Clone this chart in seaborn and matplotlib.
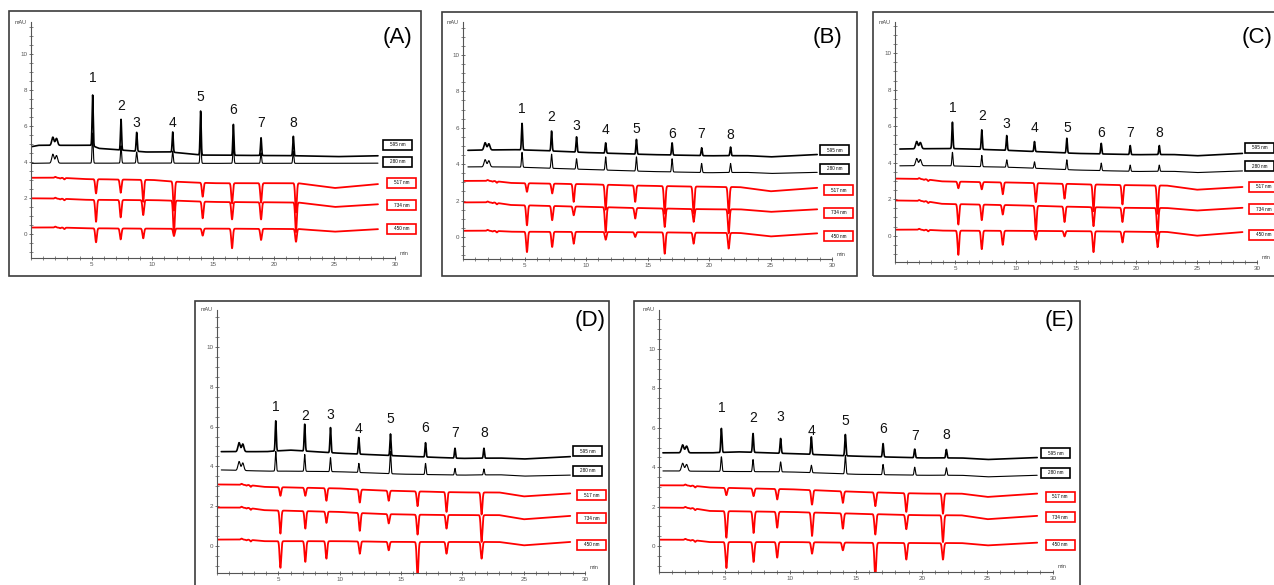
import numpy as np
import matplotlib
matplotlib.use("Agg")
import matplotlib.pyplot as plt
import seaborn as sns
from matplotlib.patches import Rectangle
from matplotlib.ticker import MultipleLocator

# ---------------- data ----------------
panels = ["A", "B", "C", "D", "E"]
wavelengths = ["595 nm", "280 nm", "517 nm", "734 nm", "450 nm"]
peak_names = ["1", "2", "3", "4", "5", "6", "7", "8"]

solvent_t = [1.8, 2.1]
red_ripple_t = [2.0, 2.4, 2.75]
red_ripple_h = [0.05, -0.04, -0.08]

# Panel A
A_rt_black = [5.08, 7.42, 8.71, 11.68, 13.98, 16.68, 18.96, 21.62]
A_rt_red = [5.36, 7.39, 9.25, 11.78, 14.15, 16.57, 18.96, 21.84]
A_595 = [7.71, 6.36, 5.64, 5.66, 6.82, 6.08, 5.34, 5.42]
A_280 = [5.6, 4.9, 4.55, 4.6, 5.5, 4.95, 4.5, 4.6]
A_517 = [2.25, 2.29, 1.79, 1.3, 2.07, 1.70, 1.74, 1.2]
A_734 = [0.68, 0.92, 1.05, 0.0, 0.87, 0.81, 0.81, 0.1]
A_450 = [-0.46, -0.30, -0.24, -0.11, -0.09, -0.79, -0.33, -0.43]
A_base_t_black = [0, 0.6, 5.0, 5.6, 9.5, 11.5, 14, 18, 22, 25, 28.6]
A_base_595 = [4.84, 4.92, 4.92, 4.75, 4.55, 4.55, 4.38, 4.36, 4.34, 4.29, 4.34]
A_base_280 = [3.92, 3.93, 3.93, 3.93, 3.93, 3.93, 3.92, 3.92, 3.92, 3.92, 3.93]
A_base_t_red = [0, 2.5, 4.3, 10, 12, 15, 22, 25, 28.6]
A_base_517 = [3.12, 3.12, 3.05, 3.0, 2.9, 2.82, 2.82, 2.55, 2.77]
A_base_734 = [1.98, 1.96, 1.9, 1.88, 1.85, 1.78, 1.75, 1.5, 1.65]
A_base_450 = [0.36, 0.36, 0.32, 0.30, 0.30, 0.30, 0.28, 0.13, 0.27]
A_solvent = [0.45, 0.5]
A_label_y = [8.63, 7.1, 6.17, 6.17, 7.58, 6.88, 6.17, 6.17]
A_tag_y = [4.94, 4.0, 2.83, 1.6, 0.28]

# Panel B
B_rt_black = [4.8, 7.2, 9.23, 11.6, 14.1, 17.0, 19.4, 21.75]
B_rt_red = [5.2, 7.25, 9.0, 11.6, 14.0, 16.4, 18.75, 21.6]
B_595 = [6.24, 5.82, 5.5, 5.17, 5.36, 5.17, 4.9, 4.94]
B_280 = [4.65, 4.55, 4.3, 4.4, 4.4, 4.3, 4.04, 4.04]
B_517 = [2.48, 2.39, 1.93, 1.5, 1.93, 1.28, 1.28, 1.3]
B_734 = [0.64, 0.92, 1.19, 0.25, 1.01, 0.55, 0.83, 0.2]
B_450 = [-0.83, -0.55, -0.37, -0.15, 0.0, -0.92, -0.37, -0.64]
B_base_t_black = [0.4, 4.0, 6, 10, 15, 20, 23, 25, 28.8]
B_base_595 = [4.76, 4.8, 4.76, 4.64, 4.53, 4.46, 4.47, 4.4, 4.53]
B_base_280 = [3.85, 3.85, 3.8, 3.71, 3.6, 3.53, 3.55, 3.49, 3.55]
B_base_t_red = [0.1, 2.5, 3.8, 10, 15, 20, 22.5, 25, 28.8]
B_base_517 = [3.08, 3.08, 2.97, 2.9, 2.81, 2.76, 2.74, 2.51, 2.7]
B_base_734 = [1.9, 1.9, 1.76, 1.66, 1.58, 1.52, 1.52, 1.38, 1.52]
B_base_450 = [0.34, 0.34, 0.29, 0.28, 0.26, 0.23, 0.22, 0.03, 0.2]
B_solvent = [0.4, 0.4]
B_label_y = [7.01, 6.57, 6.11, 5.9, 5.92, 5.65, 5.65, 5.6]
B_tag_y = [4.77, 3.74, 2.57, 1.32, 0.04]

# Panel C
C_rt_black = [4.76, 7.19, 9.26, 11.56, 14.24, 17.09, 19.49, 21.9]
C_rt_red = [5.25, 7.19, 8.93, 11.67, 14.05, 16.45, 18.85, 21.76]
C_595 = [6.22, 5.8, 5.49, 5.16, 5.34, 5.06, 4.94, 4.94]
C_280 = [4.57, 4.4, 4.16, 4.05, 4.16, 3.98, 3.87, 3.87]
C_517 = [2.6, 2.54, 2.27, 1.84, 2.03, 1.34, 1.71, 1.2]
C_734 = [0.61, 0.85, 1.16, 0.2, 0.75, 0.52, 0.75, 0.1]
C_450 = [-1.05, -0.74, -0.5, -0.22, -0.04, -0.9, -0.37, -0.63]
C_base_t_black = [0.4, 4.0, 6, 10, 15, 20, 23, 25, 28.8]
C_base_595 = [4.75, 4.78, 4.76, 4.66, 4.51, 4.44, 4.45, 4.38, 4.51]
C_base_280 = [3.83, 3.84, 3.8, 3.74, 3.6, 3.52, 3.53, 3.46, 3.55]
C_base_t_red = [0.1, 2.5, 3.8, 10, 15, 20, 22.5, 25, 28.8]
C_base_517 = [3.13, 3.1, 2.98, 2.91, 2.83, 2.76, 2.75, 2.52, 2.67]
C_base_734 = [1.93, 1.9, 1.75, 1.67, 1.58, 1.52, 1.52, 1.38, 1.53]
C_base_450 = [0.33, 0.33, 0.28, 0.27, 0.25, 0.22, 0.21, 0.0, 0.2]
C_solvent = [0.4, 0.4]
C_label_y = [7.0, 6.56, 6.1, 5.89, 5.91, 5.64, 5.64, 5.64]
C_tag_y = [4.82, 3.81, 2.67, 1.44, 0.04]

# Panel D
D_rt_black = [4.79, 7.15, 9.25, 11.56, 14.14, 17.0, 19.4, 21.76]
D_rt_red = [5.17, 7.2, 8.92, 11.64, 14.0, 16.35, 18.71, 21.57]
D_595 = [6.29, 6.12, 5.95, 5.45, 5.63, 5.19, 4.91, 4.91]
D_280 = [4.75, 4.6, 4.44, 4.15, 4.74, 4.15, 3.9, 3.87]
D_517 = [2.52, 2.52, 2.27, 2.18, 2.27, 2.0, 1.71, 1.58]
D_734 = [0.62, 0.87, 1.16, 0.76, 1.13, 0.57, 0.87, 0.2]
D_450 = [-1.1, -0.8, -0.64, -0.39, -0.22, -1.6, -0.39, -0.64]
D_base_t_black = [0.35, 4.0, 5.9, 10, 15, 20, 23, 25, 28.8]
D_base_595 = [4.74, 4.74, 4.82, 4.66, 4.52, 4.4, 4.42, 4.37, 4.49]
D_base_280 = [3.82, 3.76, 3.76, 3.73, 3.61, 3.56, 3.58, 3.51, 3.56]
D_base_t_red = [0.1, 2.5, 3.8, 10, 12.5, 15, 20, 23, 25, 28.8]
D_base_517 = [3.09, 3.07, 2.97, 2.89, 2.81, 2.76, 2.69, 2.69, 2.49, 2.64]
D_base_734 = [1.93, 1.92, 1.8, 1.71, 1.63, 1.58, 1.55, 1.55, 1.34, 1.51]
D_base_450 = [0.32, 0.32, 0.24, 0.24, 0.22, 0.2, 0.2, 0.2, 0.03, 0.2]
D_solvent = [0.45, 0.45]
D_label_y = [7.0, 6.55, 6.59, 5.87, 6.39, 5.95, 5.66, 5.66]
D_tag_y = [4.77, 3.78, 2.55, 1.38, 0.07]

# Panel E
E_rt_black = [4.75, 7.16, 9.26, 11.6, 14.19, 17.06, 19.47, 21.88]
E_rt_red = [5.13, 7.2, 9.0, 11.65, 14.0, 16.47, 18.83, 21.62]
E_595 = [5.97, 5.71, 5.46, 5.54, 5.66, 5.2, 4.92, 4.9]
E_280 = [4.53, 4.39, 4.27, 4.1, 4.6, 4.14, 4.0, 3.97]
E_517 = [2.58, 2.53, 2.36, 2.1, 2.19, 2.02, 1.73, 1.64]
E_734 = [0.42, 0.66, 0.93, 0.51, 0.88, 0.58, 0.85, 0.2]
E_450 = [-1.12, -0.81, -0.59, -0.39, -0.22, -1.6, -0.69, -0.69]
E_base_t_black = [0.3, 4.0, 6, 10, 15, 20, 23, 25, 28.8]
E_base_595 = [4.73, 4.73, 4.78, 4.69, 4.56, 4.47, 4.47, 4.39, 4.49]
E_base_280 = [3.81, 3.79, 3.78, 3.76, 3.64, 3.59, 3.59, 3.51, 3.59]
E_base_t_red = [0.1, 2.5, 3.8, 10, 15, 20, 23, 25, 28.8]
E_base_517 = [3.08, 3.07, 2.97, 2.88, 2.75, 2.66, 2.66, 2.49, 2.66]
E_base_734 = [1.95, 1.93, 1.78, 1.73, 1.64, 1.56, 1.56, 1.36, 1.53]
E_base_450 = [0.32, 0.31, 0.2, 0.2, 0.17, 0.15, 0.15, 0.03, 0.17]
E_solvent = [0.4, 0.4]
E_label_y = [6.98, 6.51, 6.56, 5.83, 6.34, 5.92, 5.59, 5.63]
E_tag_y = [4.71, 3.73, 2.51, 1.47, 0.07]

data = {
    "A": dict(rtb=A_rt_black, rtr=A_rt_red, pk=[A_595, A_280, A_517, A_734, A_450],
              tb=A_base_t_black, tr=A_base_t_red,
              base=[A_base_595, A_base_280, A_base_517, A_base_734, A_base_450],
              solv=A_solvent, lab=A_label_y, tag=A_tag_y),
    "B": dict(rtb=B_rt_black, rtr=B_rt_red, pk=[B_595, B_280, B_517, B_734, B_450],
              tb=B_base_t_black, tr=B_base_t_red,
              base=[B_base_595, B_base_280, B_base_517, B_base_734, B_base_450],
              solv=B_solvent, lab=B_label_y, tag=B_tag_y),
    "C": dict(rtb=C_rt_black, rtr=C_rt_red, pk=[C_595, C_280, C_517, C_734, C_450],
              tb=C_base_t_black, tr=C_base_t_red,
              base=[C_base_595, C_base_280, C_base_517, C_base_734, C_base_450],
              solv=C_solvent, lab=C_label_y, tag=C_tag_y),
    "D": dict(rtb=D_rt_black, rtr=D_rt_red, pk=[D_595, D_280, D_517, D_734, D_450],
              tb=D_base_t_black, tr=D_base_t_red,
              base=[D_base_595, D_base_280, D_base_517, D_base_734, D_base_450],
              solv=D_solvent, lab=D_label_y, tag=D_tag_y),
    "E": dict(rtb=E_rt_black, rtr=E_rt_red, pk=[E_595, E_280, E_517, E_734, E_450],
              tb=E_base_t_black, tr=E_base_t_red,
              base=[E_base_595, E_base_280, E_base_517, E_base_734, E_base_450],
              solv=E_solvent, lab=E_label_y, tag=E_tag_y),
}

# ---------------- layout (pixels of a 1274x585 canvas) ----------------
W, H = 1274, 585
axes_px = {  # left, right, top, bottom, ylim
    "A": (31, 395, 22, 258, (-1.33, 11.76)),
    "B": (463, 832, 22, 259, (-1.21, 11.81)),
    "C": (895, 1257, 22, 262, (-1.44, 11.71)),
    "D": (217, 585, 310, 573, (-1.36, 11.86)),
    "E": (659, 1053, 310, 572, (-1.32, 11.98)),
}
frames_px = {"A": (9, 11, 421, 276), "B": (442, 12, 857, 276), "C": (873, 12, 1290, 276),
             "D": (195, 301, 609, 600), "E": (634, 301, 1080, 600)}
letters_px = {"A": (397, 37), "B": (828, 37), "C": (1257, 37), "D": (590, 320), "E": (1060, 320)}

sns.set_style("white")
plt.rcParams["font.family"] = ["Liberation Sans", "DejaVu Sans"]

fig = plt.figure(figsize=(W / 100, H / 100), dpi=100)
fig.patch.set_facecolor("white")

for p in panels:
    x0, y0, x1, y1 = frames_px[p]
    fig.add_artist(Rectangle((x0 / W, 1 - y1 / H), (x1 - x0) / W, (y1 - y0) / H,
                             transform=fig.transFigure, fill=False, ec="#3c3c3c", lw=1.2))

for p in panels:
    d = data[p]
    l, r, t, b, ylim = axes_px[p]
    ax = fig.add_axes([l / W, 1 - b / H, (r - l) / W, (b - t) / H])
    ax.set_facecolor("none")
    ax.set_xlim(0, 30)
    ax.set_ylim(*ylim)

    for i, wl in enumerate(wavelengths):
        black = i < 2
        tt = d["tb"] if black else d["tr"]
        rts = d["rtb"] if black else d["rtr"]
        grid = np.arange(tt[0], tt[-1], 0.004)
        base = np.interp(grid, tt, d["base"][i])
        y = base.copy()
        sig = 0.045 if black else 0.065
        for rt, ap in zip(rts, d["pk"][i]):
            amp = ap - np.interp(rt, tt, d["base"][i])
            y += amp * np.exp(-0.5 * ((grid - rt) / sig) ** 2)
        if black:
            for st, sh in zip(solvent_t, [d["solv"][i], d["solv"][i] * 0.85]):
                y += sh * np.exp(-0.5 * ((grid - st) / 0.09) ** 2)
        else:
            for rt, rh in zip(red_ripple_t, red_ripple_h):
                y += rh * np.exp(-0.5 * ((grid - rt) / 0.06) ** 2)
        color = "black" if black else "#ff0000"
        lw = 1.2 if i == 0 else (0.8 if i == 1 else 1.3)
        sns.lineplot(x=grid, y=y, ax=ax, color=color, lw=lw, estimator=None, sort=False)

        # wavelength tag box
        ppx = (r - l) / 30.0
        ppy = (b - t) / (ylim[1] - ylim[0])
        bw, bh = 29 / ppx, 10 / ppy
        cx = 30.2 if black else 30.55
        cy = d["tag"][i]
        ax.add_patch(Rectangle((cx - bw / 2, cy - bh / 2), bw, bh, fill=True, fc="white",
                               ec=color, lw=1.2, clip_on=False, zorder=5))
        ax.text(cx, cy, wl, ha="center", va="center", fontsize=3.3, color="black",
                clip_on=False, zorder=6)

    for rt, ly, nm in zip(d["rtb"], d["lab"], peak_names):
        ax.text(rt, ly, nm, ha="center", va="center", fontsize=10, color="#111111")

    sns.despine(ax=ax)
    for s in ["left", "bottom"]:
        ax.spines[s].set_color("#555555")
        ax.spines[s].set_linewidth(0.8)
    ax.set_xticks([5, 10, 15, 20, 25, 30])
    ax.set_yticks([0, 2, 4, 6, 8, 10])
    ax.xaxis.set_minor_locator(MultipleLocator(1))
    ax.yaxis.set_minor_locator(MultipleLocator(0.5))
    ax.tick_params(which="major", direction="inout", length=3.5, width=0.6, colors="#555555",
                   labelsize=4.5, pad=1, left=True, bottom=True)
    ax.tick_params(which="minor", direction="inout", length=2.2, width=0.5, colors="#555555",
                   left=True, bottom=True)
    ax.set_xlabel("")
    ax.set_ylabel("")
    ax.text(-0.012, 1.0, "mAU", transform=ax.transAxes, ha="right", va="center",
            fontsize=4, color="#444444")
    ax.text(1.012, 0.01, "min", transform=ax.transAxes, ha="left", va="bottom",
            fontsize=4, color="#444444")

    lx, ly = letters_px[p]
    fig.text(lx / W, 1 - ly / H, f"({p})", ha="center", va="center", fontsize=16, color="black")

fig.savefig("out.png", dpi=100, facecolor="white")
